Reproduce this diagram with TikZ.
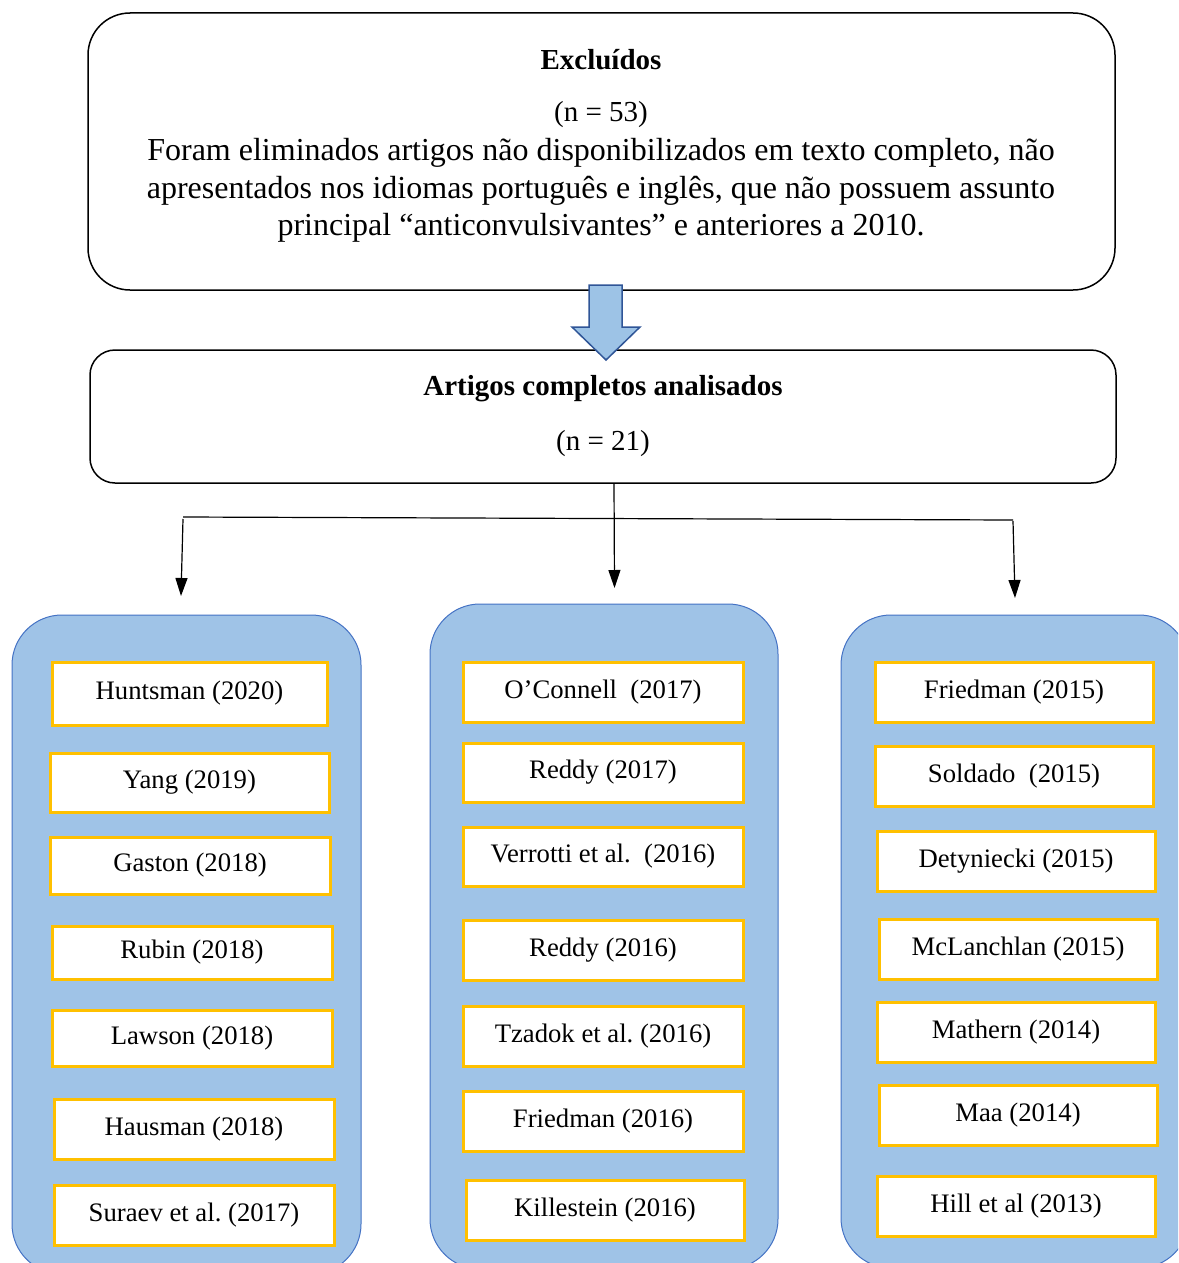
\documentclass[tikz,border=0pt]{standalone}
\usepackage{fontspec}
\setmainfont{Liberation Serif}
\usetikzlibrary{arrows.meta}
\frenchspacing
\definecolor{panelfill}{HTML}{9FC3E7}
\definecolor{panelline}{HTML}{4472C4}
\definecolor{refgold}{HTML}{FFC000}
\definecolor{arrowblue}{HTML}{9DC3E6}
\definecolor{arrowedge}{HTML}{2F5597}

% one reference entry: name, left, top, right, bottom, text
\newcommand{\paperbox}[6]{%
  \node[refbox, minimum width={#4-#2}, minimum height={#5-#3}]
    (#1) at ({(#2+#4)/2},{(#3+#5)/2}) {#6};}

\begin{document}
\begin{tikzpicture}[x=1pt, y=-1pt,
  framebox/.style={draw=black, line width=1.5pt, inner sep=0pt},
  panel/.style={draw=panelline, fill=panelfill, line width=1pt,
    rounded corners=50pt, inner sep=0pt},
  refbox/.style={draw=refgold, fill=white, line width=3pt, inner sep=0pt,
    font=\fontsize{26.7}{31}\selectfont, text height=18pt, text depth=6pt},
  headtext/.style={anchor=base, font=\fontsize{29}{34}\selectfont\bfseries},
  counttext/.style={anchor=base, font=\fontsize{29}{34}\selectfont},
  bodytext/.style={anchor=base, font=\fontsize{32}{37}\selectfont},
  link/.style={line width=1.2pt, draw=black},
  linkarrow/.style={link, -{Triangle[length=18pt, width=12pt]}}
]
\useasboundingbox (0,0) rectangle (1178,1263);
\begin{scope}
\clip (0,0) rectangle (1178,1263);

% excluded articles
\node[framebox, rounded corners=42pt, minimum width=1027, minimum height=277]
  (excl) at (601.5,151.5) {};
\node[headtext] (exclHead) at (601,70) {Excluídos};
\node[counttext] (exclCount) at (601,121) {(n = 53)};
\node[bodytext] (exclL1) at (601,160) {Foram eliminados artigos não disponibilizados em texto completo, não};
\node[bodytext] (exclL2) at (601,198) {apresentados nos idiomas português e inglês, que não possuem assunto};
\node[bodytext] (exclL3) at (601,235) {principal “anticonvulsivantes” e anteriores a 2010.};

% analysed articles
\node[framebox, rounded corners=25pt, minimum width=1026, minimum height=133]
  (anal) at (603,416.5) {};
\node[headtext] (analHead) at (603,395) {Artigos completos analisados};
\node[counttext] (analCount) at (603,450) {(n = 21)};

% block arrow between the two boxes
\draw[fill=arrowblue, draw=arrowedge, line width=1.5pt, line join=miter]
  (589,285) -- (622,285) -- (622,327) -- (640,327) -- (606,360)
  -- (572,327) -- (589,327) -- cycle;

% branching connectors
\coordinate (drop) at (614,483);
\coordinate (tipM) at (614.5,588);
\coordinate (barL) at (183,517);
\coordinate (barR) at (1013,520);
\coordinate (dropL) at (183,519);
\coordinate (tipL) at (181,596);
\coordinate (dropR) at (1013,521);
\coordinate (tipR) at (1015,598);
\draw[link] (barL) -- (barR);
\draw[linkarrow] (drop) -- (tipM);
\draw[linkarrow] (dropL) -- (tipL);
\draw[linkarrow] (dropR) -- (tipR);

% three columns of studies
\node[panel, minimum width=349, minimum height=659] (colL) at (186.5,944.5) {};
\node[panel, minimum width=348, minimum height=665] (colM) at (604,936.5) {};
\node[panel, minimum width=348, minimum height=653] (colR) at (1015,941.5) {};

\paperbox{l1}{52}{662}{327}{725}{Huntsman (2020)}
\paperbox{l2}{50}{753}{329}{812}{Yang (2019)}
\paperbox{l3}{50}{837}{330}{894}{Gaston (2018)}
\paperbox{l4}{52}{926}{332}{979}{Rubin (2018)}
\paperbox{l5}{52}{1010}{332}{1066}{Lawson (2018)}
\paperbox{l6}{54}{1099}{334}{1159}{Hausman (2018)}
\paperbox{l7}{54}{1185}{334}{1245}{Suraev et al. (2017)}

\paperbox{m1}{463}{662}{743}{722}{O’Connell\ \ (2017)}
\paperbox{m2}{463}{743}{743}{802}{Reddy (2017)}
\paperbox{m3}{463}{827}{743}{886}{Verrotti et al.\ \ (2016)}
\paperbox{m4}{463}{920}{743}{980}{Reddy (2016)}
\paperbox{m5}{463}{1006}{743}{1066}{Tzadok et al. (2016)}
\paperbox{m6}{463}{1091}{743}{1151}{Friedman (2016)}
\paperbox{m7}{466}{1180}{744}{1240}{Killestein (2016)}

\paperbox{r1}{875}{662}{1153}{722}{Friedman (2015)}
\paperbox{r2}{875}{746}{1153}{806}{Soldado\ \ (2015)}
\paperbox{r3}{877}{831}{1155}{891}{Detyniecki (2015)}
\paperbox{r4}{879}{919}{1157}{979}{McLanchlan (2015)}
\paperbox{r5}{877}{1002}{1155}{1062}{Mathern (2014)}
\paperbox{r6}{879}{1085}{1157}{1145}{Maa (2014)}
\paperbox{r7}{877}{1176}{1155}{1236}{Hill et al (2013)}
\end{scope}
\end{tikzpicture}
\end{document}
